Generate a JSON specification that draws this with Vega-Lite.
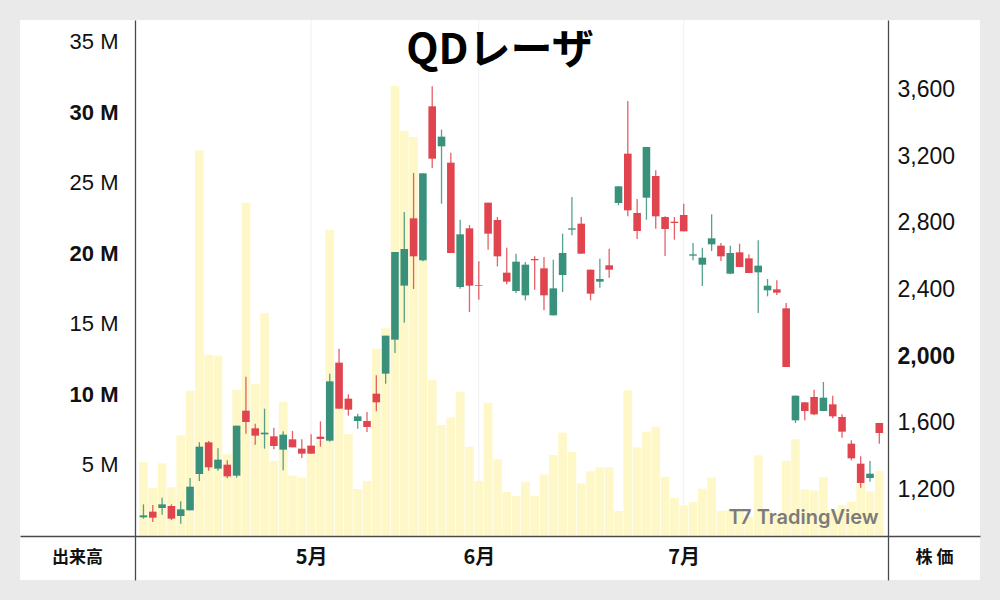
{
  "$schema": "https://vega.github.io/schema/vega-lite/v6.json",
  "width": 960,
  "height": 560,
  "autosize": "none",
  "padding": {"left": 20, "top": 20, "right": 20, "bottom": 20},
  "background": "#eaeaea",
  "config": {
    "view": {"fill": "#ffffff", "stroke": null},
    "axis": {"grid": false, "ticks": false}
  },
  "title": {
    "text": "QDレーザ",
    "anchor": "middle",
    "frame": "group",
    "font": "Noto Sans CJK JP",
    "fontSize": 42,
    "fontWeight": "bold",
    "color": "#000000",
    "baseline": "alphabetic",
    "offset": -47,
    "dy": 39
  },
  "datasets": {
    "ohlc": [
      {"i": 0, "open": 1032, "high": 1110, "low": 1024, "close": 1044, "volume": 5210000},
      {"i": 1, "open": 1066, "high": 1106, "low": 1004, "close": 1030, "volume": 3370000},
      {"i": 2, "open": 1088, "high": 1150, "low": 1048, "close": 1110, "volume": 5120000},
      {"i": 3, "open": 1100, "high": 1110, "low": 1016, "close": 1024, "volume": 3420000},
      {"i": 4, "open": 1040, "high": 1128, "low": 994, "close": 1080, "volume": 7100000},
      {"i": 5, "open": 1074, "high": 1268, "low": 1074, "close": 1216, "volume": 10270000},
      {"i": 6, "open": 1292, "high": 1482, "low": 1250, "close": 1456, "volume": 27300000},
      {"i": 7, "open": 1482, "high": 1490, "low": 1312, "close": 1332, "volume": 12820000},
      {"i": 8, "open": 1324, "high": 1446, "low": 1312, "close": 1378, "volume": 12750000},
      {"i": 9, "open": 1348, "high": 1374, "low": 1266, "close": 1278, "volume": 5760000},
      {"i": 10, "open": 1282, "high": 1582, "low": 1270, "close": 1582, "volume": 10320000},
      {"i": 11, "open": 1672, "high": 1876, "low": 1534, "close": 1604, "volume": 23600000},
      {"i": 12, "open": 1566, "high": 1594, "low": 1468, "close": 1522, "volume": 10770000},
      {"i": 13, "open": 1530, "high": 1684, "low": 1444, "close": 1540, "volume": 15760000},
      {"i": 14, "open": 1518, "high": 1570, "low": 1440, "close": 1460, "volume": 5280000},
      {"i": 15, "open": 1438, "high": 1548, "low": 1314, "close": 1528, "volume": 9490000},
      {"i": 16, "open": 1500, "high": 1550, "low": 1452, "close": 1452, "volume": 4240000},
      {"i": 17, "open": 1444, "high": 1500, "low": 1388, "close": 1414, "volume": 4100000},
      {"i": 18, "open": 1462, "high": 1530, "low": 1414, "close": 1414, "volume": 6420000},
      {"i": 19, "open": 1516, "high": 1608, "low": 1456, "close": 1502, "volume": 6700000},
      {"i": 20, "open": 1492, "high": 1894, "low": 1486, "close": 1848, "volume": 21670000},
      {"i": 21, "open": 1960, "high": 2044, "low": 1684, "close": 1684, "volume": 9020000},
      {"i": 22, "open": 1744, "high": 1770, "low": 1642, "close": 1678, "volume": 7200000},
      {"i": 23, "open": 1610, "high": 1654, "low": 1564, "close": 1638, "volume": 3300000},
      {"i": 24, "open": 1610, "high": 1664, "low": 1544, "close": 1574, "volume": 3870000},
      {"i": 25, "open": 1774, "high": 1884, "low": 1668, "close": 1722, "volume": 13250000},
      {"i": 26, "open": 1894, "high": 2122, "low": 1834, "close": 2122, "volume": 14700000},
      {"i": 27, "open": 2098, "high": 2624, "low": 2018, "close": 2624, "volume": 31880000},
      {"i": 28, "open": 2422, "high": 2864, "low": 2200, "close": 2642, "volume": 28700000},
      {"i": 29, "open": 2826, "high": 3098, "low": 2402, "close": 2598, "volume": 28260000},
      {"i": 30, "open": 2574, "high": 3096, "low": 2568, "close": 3096, "volume": 19500000},
      {"i": 31, "open": 3498, "high": 3618, "low": 3128, "close": 3184, "volume": 11030000},
      {"i": 32, "open": 3258, "high": 3358, "low": 2914, "close": 3316, "volume": 7840000},
      {"i": 33, "open": 3160, "high": 3220, "low": 2618, "close": 2618, "volume": 8360000},
      {"i": 34, "open": 2414, "high": 2818, "low": 2404, "close": 2730, "volume": 10200000},
      {"i": 35, "open": 2766, "high": 2786, "low": 2264, "close": 2422, "volume": 6300000},
      {"i": 36, "open": 2426, "high": 2568, "low": 2338, "close": 2422, "volume": 3870000},
      {"i": 37, "open": 2920, "high": 2920, "low": 2638, "close": 2734, "volume": 9420000},
      {"i": 38, "open": 2816, "high": 2834, "low": 2538, "close": 2598, "volume": 5400000},
      {"i": 39, "open": 2500, "high": 2650, "low": 2430, "close": 2446, "volume": 3100000},
      {"i": 40, "open": 2390, "high": 2614, "low": 2378, "close": 2566, "volume": 2800000},
      {"i": 41, "open": 2364, "high": 2564, "low": 2334, "close": 2548, "volume": 3790000},
      {"i": 42, "open": 2582, "high": 2598, "low": 2398, "close": 2574, "volume": 2800000},
      {"i": 43, "open": 2526, "high": 2594, "low": 2274, "close": 2364, "volume": 4340000},
      {"i": 44, "open": 2244, "high": 2578, "low": 2244, "close": 2406, "volume": 5710000},
      {"i": 45, "open": 2486, "high": 2734, "low": 2384, "close": 2618, "volume": 7290000},
      {"i": 46, "open": 2758, "high": 2954, "low": 2724, "close": 2766, "volume": 5920000},
      {"i": 47, "open": 2794, "high": 2834, "low": 2614, "close": 2614, "volume": 3700000},
      {"i": 48, "open": 2518, "high": 2518, "low": 2334, "close": 2374, "volume": 4550000},
      {"i": 49, "open": 2446, "high": 2584, "low": 2410, "close": 2462, "volume": 4840000},
      {"i": 50, "open": 2544, "high": 2644, "low": 2470, "close": 2518, "volume": 4840000},
      {"i": 51, "open": 2918, "high": 3018, "low": 2904, "close": 3018, "volume": 1740000},
      {"i": 52, "open": 3214, "high": 3530, "low": 2838, "close": 2874, "volume": 10300000},
      {"i": 53, "open": 2858, "high": 2942, "low": 2702, "close": 2750, "volume": 6250000},
      {"i": 54, "open": 2950, "high": 3254, "low": 2818, "close": 3254, "volume": 7360000},
      {"i": 55, "open": 3080, "high": 3114, "low": 2764, "close": 2838, "volume": 7720000},
      {"i": 56, "open": 2834, "high": 2838, "low": 2600, "close": 2762, "volume": 4170000},
      {"i": 57, "open": 2806, "high": 2834, "low": 2698, "close": 2798, "volume": 2660000},
      {"i": 58, "open": 2846, "high": 2914, "low": 2748, "close": 2748, "volume": 2140000},
      {"i": 59, "open": 2602, "high": 2678, "low": 2574, "close": 2610, "volume": 2380000},
      {"i": 60, "open": 2548, "high": 2650, "low": 2420, "close": 2590, "volume": 3320000},
      {"i": 61, "open": 2670, "high": 2850, "low": 2630, "close": 2706, "volume": 4100000},
      {"i": 62, "open": 2662, "high": 2678, "low": 2570, "close": 2598, "volume": 1760000},
      {"i": 63, "open": 2494, "high": 2662, "low": 2490, "close": 2618, "volume": 1800000},
      {"i": 64, "open": 2622, "high": 2674, "low": 2534, "close": 2534, "volume": 1800000},
      {"i": 65, "open": 2586, "high": 2610, "low": 2498, "close": 2498, "volume": 1330000},
      {"i": 66, "open": 2502, "high": 2694, "low": 2258, "close": 2542, "volume": 5690000},
      {"i": 67, "open": 2394, "high": 2462, "low": 2358, "close": 2422, "volume": 1800000},
      {"i": 68, "open": 2400, "high": 2454, "low": 2366, "close": 2380, "volume": 1500000},
      {"i": 69, "open": 2286, "high": 2318, "low": 1934, "close": 1934, "volume": 5300000},
      {"i": 70, "open": 1614, "high": 1762, "low": 1598, "close": 1762, "volume": 6820000},
      {"i": 71, "open": 1722, "high": 1722, "low": 1614, "close": 1670, "volume": 3270000},
      {"i": 72, "open": 1754, "high": 1798, "low": 1644, "close": 1650, "volume": 3200000},
      {"i": 73, "open": 1670, "high": 1844, "low": 1670, "close": 1750, "volume": 4130000},
      {"i": 74, "open": 1710, "high": 1762, "low": 1626, "close": 1638, "volume": 1800000},
      {"i": 75, "open": 1634, "high": 1650, "low": 1510, "close": 1546, "volume": 2160000},
      {"i": 76, "open": 1474, "high": 1494, "low": 1374, "close": 1386, "volume": 2380000},
      {"i": 77, "open": 1354, "high": 1398, "low": 1210, "close": 1238, "volume": 3700000},
      {"i": 78, "open": 1268, "high": 1370, "low": 1246, "close": 1294, "volume": 3130000},
      {"i": 79, "open": 1598, "high": 1598, "low": 1474, "close": 1538, "volume": 4600000}
    ],
    "months": [
      {"i": 18, "month": "5月"},
      {"i": 36, "month": "6月"},
      {"i": 58, "month": "7月"}
    ],
    "levels": [
      {"level": 1200}, {"level": 1600}, {"level": 2000}, {"level": 2400},
      {"level": 2800}, {"level": 3200}, {"level": 3600}, {"level": 4000}
    ]
  },
  "encoding": {
    "x": {
      "field": "i",
      "type": "quantitative",
      "scale": {"domain": [-12.718, 89.274], "range": [0, 960], "nice": false, "zero": false},
      "axis": {
        "orient": "bottom",
        "offset": -44,
        "zindex": 1,
        "values": [18, 36, 58],
        "labelExpr": "datum.value == 18 ? '5月' : datum.value == 36 ? '6月' : '7月'",
        "labelFont": "Noto Sans CJK JP",
        "labelFontSize": 20,
        "labelFontWeight": "bold",
        "labelColor": "#111111",
        "labelPadding": 11,
        "labelFlush": false,
        "labelOverlap": false,
        "domainColor": "#4a4a4a",
        "domainWidth": 1.3,
        "title": "T7 TradingView",
        "titleFont": "Inter",
        "titleFontSize": 20,
        "titleFontWeight": 600,
        "titleColor": "#7b7b7b",
        "titleAlign": "center",
        "titleBaseline": "middle",
        "titleX": 783,
        "titleY": -19
      }
    }
  },
  "layer": [
    {
      "layer": [
        {
          "data": {"name": "levels"},
          "mark": {"type": "rule", "color": "#f0f0f0", "strokeWidth": 1},
          "encoding": {
            "x": {"datum": -0.5, "type": "quantitative"},
            "x2": {"datum": 79.5},
            "y": {
              "field": "level",
              "type": "quantitative",
              "scale": {"domain": [656, 4016], "range": [560, 0], "nice": false, "zero": false},
              "axis": null
            }
          }
        },
        {
          "data": {"name": "months"},
          "mark": {"type": "rule", "color": "#f0f0f0", "strokeWidth": 1},
          "encoding": {
            "y": {
              "datum": 920,
              "type": "quantitative",
              "scale": {"domain": [656, 4016], "range": [560, 0], "nice": false, "zero": false},
              "axis": null
            },
            "y2": {"datum": 4016}
          }
        }
      ]
    },
    {
      "data": {"name": "ohlc"},
      "mark": {"type": "bar", "width": 8.7, "color": "#fef8c8"},
      "encoding": {
        "y": {
          "field": "volume",
          "type": "quantitative",
          "scale": {"domain": [-3156000, 36560000], "range": [560, 0], "nice": false, "zero": false},
          "axis": {
            "orient": "left",
            "offset": -115,
            "values": [5000000, 10000000, 15000000, 20000000, 25000000, 30000000, 35000000],
            "labelExpr": "(datum.value / 1000000) + ' M'",
            "labelFont": "Liberation Sans",
            "labelFontSize": 22,
            "labelFontWeight": {
              "condition": {"test": "datum.value == 10000000 || datum.value == 20000000 || datum.value == 30000000", "value": "bold"},
              "value": "normal"
            },
            "labelColor": "#111111",
            "labelPadding": 17,
            "domainColor": "#4a4a4a",
            "domainWidth": 1.3,
            "title": "出来高",
            "titleFont": "Noto Sans CJK JP",
            "titleFontSize": 17,
            "titleFontWeight": "bold",
            "titleColor": "#111111",
            "titleAngle": 0,
            "titleAlign": "center",
            "titleBaseline": "middle",
            "titleX": -58,
            "titleY": 537
          }
        },
        "y2": {"datum": 0}
      }
    },
    {
      "data": {"name": "ohlc"},
      "layer": [
        {
          "mark": {"type": "rule", "strokeWidth": 1.3, "opacity": 0.85},
          "encoding": {
            "y": {
              "field": "low",
              "type": "quantitative",
              "scale": {"domain": [656, 4016], "range": [560, 0], "nice": false, "zero": false},
              "axis": {
                "orient": "right",
                "offset": -92,
                "values": [1200, 1600, 2000, 2400, 2800, 3200, 3600],
                "format": ",.0f",
                "labelFont": "Liberation Sans",
                "labelFontSize": 23,
                "labelFontWeight": {
                  "condition": {"test": "datum.value == 2000", "value": "bold"},
                  "value": "normal"
                },
                "labelColor": "#111111",
                "labelPadding": 9,
                "domainColor": "#4a4a4a",
                "domainWidth": 1.3,
                "title": "株 価",
                "titleFont": "Noto Sans CJK JP",
                "titleFontSize": 17,
                "titleFontWeight": "bold",
                "titleColor": "#111111",
                "titleAngle": 0,
                "titleAlign": "center",
                "titleBaseline": "middle",
                "titleX": 46,
                "titleY": 537
              }
            },
            "y2": {"field": "high"},
            "color": {
              "condition": {"test": "datum.close >= datum.open", "value": "#3a917b"},
              "value": "#e0444e"
            }
          }
        },
        {
          "mark": {"type": "bar", "width": 7.6},
          "encoding": {
            "y": {"field": "open", "type": "quantitative"},
            "y2": {"field": "close"},
            "color": {
              "condition": {"test": "datum.close >= datum.open", "value": "#3a917b"},
              "value": "#e0444e"
            }
          }
        }
      ]
    }
  ],
  "resolve": {"scale": {"y": "independent"}}
}
